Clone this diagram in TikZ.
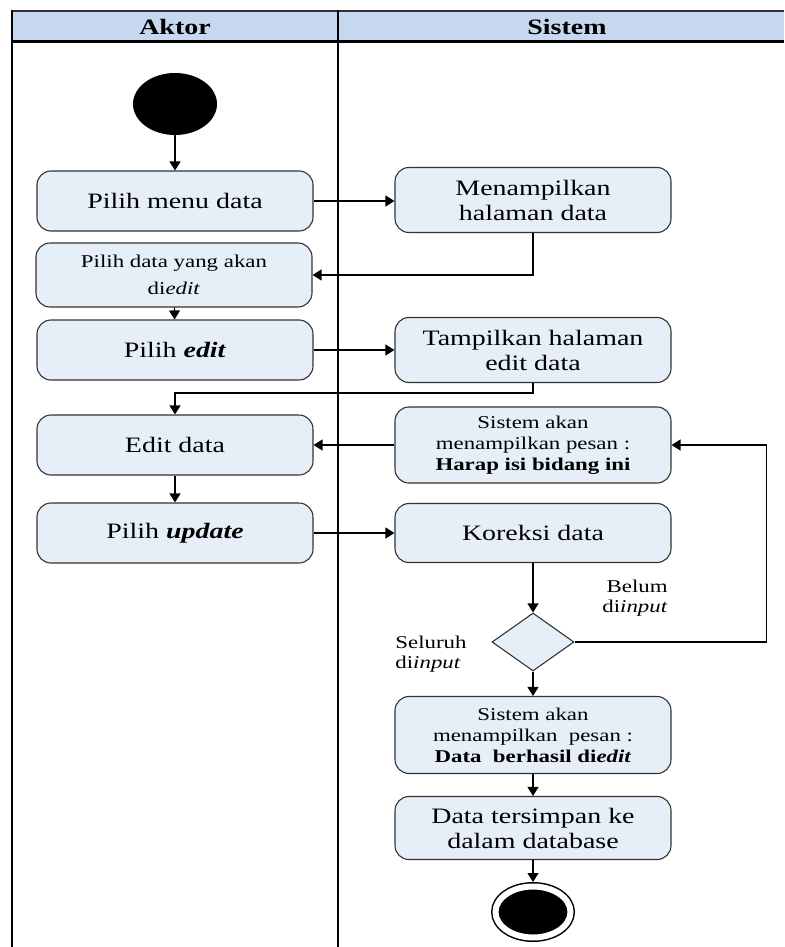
\documentclass[tikz,border=0pt]{standalone}
\usepackage{fontspec}
\setmainfont{Liberation Serif}[FakeStretch = 1.27]
\usetikzlibrary{arrows.meta}
\usetikzlibrary{positioning}
\usetikzlibrary{shapes.geometric}
\definecolor{lanehead}{RGB}{197,216,239}
\definecolor{actfill}{RGB}{230,238,248}
\tikzset{act/.style = {draw = black!80, fill = actfill, rounded corners = 14pt, minimum width = 276pt, align = center, inner sep = 0, line width = 1.1pt, font = \fontsize{22}{25}\selectfont}}
\tikzset{smallact/.style = {act, font = \fontsize{18}{21}\selectfont}}
\tikzset{decision/.style = {diamond, draw = black!80, fill = actfill, minimum width = 82pt, minimum height = 58pt, inner sep = 0, line width = 1.1pt}}
\tikzset{startdot/.style = {ellipse, fill, minimum width = 84pt, minimum height = 62pt, inner sep = 0}}
\tikzset{enddot/.style = {ellipse, draw, fill, double = white, double distance = 6pt, line width = 1.5pt, minimum width = 75pt, minimum height = 51pt, inner sep = 0, outer sep = 4.5pt}}
\tikzset{flow/.style = {-{Triangle[length = 9pt, width = 11pt]}, line width = 1.2pt}}
\tikzset{guard/.style = {inner sep = 0, font = \fontsize{18}{20}\selectfont}}
\tikzset{lanetitle/.style = {inner sep = 0, font = \fontsize{22}{24}\selectfont\bfseries}}

\begin{document}
\begin{tikzpicture}[x = 1pt, y = -1pt]
    \useasboundingbox (0, 0) rectangle (784, 947);
    % swimlanes
    \fill [lanehead] (12, 11) rectangle (784, 42);
    \draw [line width = 1.5pt, black!80] (12, 11) -- (784, 11);
    \draw [line width = 3pt] (12, 42) -- (784, 42);
    \draw [line width = 1.8pt] (12, 10) -- (12, 947);
    \draw [line width = 1.8pt] (338, 10) -- (338, 947);
    \node [lanetitle] (aktor) at (175, 27) {Aktor};
    \node [lanetitle] (sistem) at (567, 27) {Sistem};

    % actor side
    \node [startdot] (mulai) at (175, 104) {};
    \node [act, minimum height = 60pt] (menu) at (175, 201) {Pilih menu data};
    \node [smallact, minimum height = 64pt, font = \fontsize{18}{27}\selectfont] (pilihdata) at (174, 275) {Pilih data yang akan\\di\textit{edit}};
    \node [act, minimum height = 60pt] (pilihedit) at (175, 350) {Pilih \textbf{\textit{edit}}};
    \node [act, minimum height = 60pt] (editdata) at (175, 445) {Edit data};
    \node [act, minimum height = 60pt] (update) at (175, 533) {Pilih \textbf{\textit{update}}};

    % system side
    \node [act, minimum height = 65pt] (halaman) at (533, 200) {Menampilkan\\halaman data};
    \node [act, minimum height = 65pt] (halamanedit) at (533, 350) {Tampilkan halaman\\edit data};
    \node [smallact, minimum height = 76pt] (harap) at (533, 445) {Sistem akan\\menampilkan pesan :\\\textbf{Harap isi bidang ini}};
    \node [act, minimum height = 59pt] (koreksi) at (533, 533) {Koreksi data};
    \node [decision] (cek) at (533, 642) {};
    \node [smallact, minimum height = 77pt] (berhasil) at (533, 735) {Sistem akan\\menampilkan\ \ pesan :\\\textbf{Data\ \ berhasil di\textit{edit}}};
    \node [act, minimum height = 63pt] (simpan) at (533, 828) {Data tersimpan ke\\dalam database};
    \node [enddot] (selesai) at (533, 912) {};

    \node [guard, align = right] (belum) at (635, 598) {Belum\\di\textit{input}};
    \node [guard, align = left] (seluruh) at (431, 654) {Seluruh\\di\textit{input}};

    % flows
    \draw [flow] (mulai) -- (menu);
    \draw [flow] (menu.east) -- (menu.east -| halaman.west);
    \draw [flow] (halaman.south) |- (pilihdata.east);
    \draw [flow] (pilihdata) -- (pilihedit);
    \draw [flow] (pilihedit.east) -- (pilihedit.east -| halamanedit.west);
    \draw [flow] (halamanedit.south) -- ++(0, 10) -| (editdata.north);
    \draw [flow] (harap.west) -- (harap.west -| editdata.east);
    \draw [flow] (editdata) -- (update);
    \draw [flow] (update.east) -- (update.east -| koreksi.west);
    \draw [flow] (koreksi) -- (cek);
    \draw [flow] (cek.east) -- ++(192, 0) |- (harap.east);
    \draw [flow] (cek) -- (berhasil);
    \draw [flow] (berhasil) -- (simpan);
    \draw [flow] (simpan) -- (selesai);
\end{tikzpicture}
\end{document}
